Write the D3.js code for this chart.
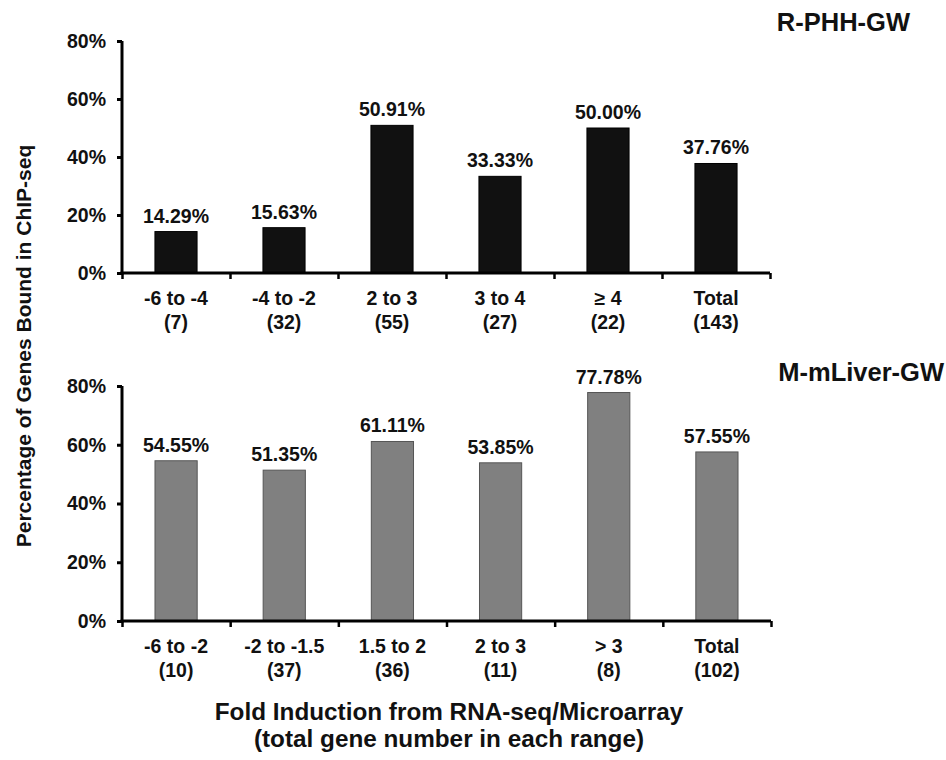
<!DOCTYPE html>
<html>
<head>
<meta charset="utf-8">
<script src="https://cdn.jsdelivr.net/npm/d3@7"></script>
<style>
  html, body { margin: 0; padding: 0; background: #fff; }
  svg { display: block; font-family: Arial, "Liberation Sans", sans-serif; font-weight: bold; }
</style>
</head>
<body>
<svg id="chart" width="946" height="760"></svg>
<script>
// ---- Data ----
const topTitle = "R-PHH-GW";
const topCategories = ["-6 to -4", "-4 to -2", "2 to 3", "3 to 4", "\u2265 4", "Total"];
const topCounts = ["(7)", "(32)", "(55)", "(27)", "(22)", "(143)"];
const topValues = [14.29, 15.63, 50.91, 33.33, 50.00, 37.76];

const bottomTitle = "M-mLiver-GW";
const bottomCategories = ["-6 to -2", "-2 to -1.5", "1.5 to 2", "2 to 3", "> 3", "Total"];
const bottomCounts = ["(10)", "(37)", "(36)", "(11)", "(8)", "(102)"];
const bottomValues = [54.55, 51.35, 61.11, 53.85, 77.78, 57.55];

const yTicks = [0, 20, 40, 60, 80];
const yTitle = "Percentage of Genes Bound in ChIP-seq";
const xTitleLines = ["Fold Induction from RNA-seq/Microarray", "(total gene number in each range)"];

// ---- Drawing ----
const svg = d3.select("#chart");

function panel(cfg) {
  const { cats, counts, values, title, y0, y1, x0, x1, fill, stroke, titleX, titleY } = cfg;
  const g = svg.append("g");
  const x = d3.scaleBand().domain(cats).range([x0, x1]).paddingInner(0.61).paddingOuter(0.305);
  const xb = d3.scaleLinear().domain([0, cats.length]).range([x0, x1]);
  const y = d3.scaleLinear().domain([0, 80]).range([y0, y1]);

  // bars
  g.selectAll("rect.bar").data(values).join("rect")
    .attr("class", "bar")
    .attr("x", (d, i) => x(cats[i]))
    .attr("width", x.bandwidth())
    .attr("y", d => y(d))
    .attr("height", d => y(0) - y(d))
    .attr("fill", fill)
    .attr("stroke", stroke)
    .attr("stroke-width", 1);

  // value labels
  g.selectAll("text.val").data(values).join("text")
    .attr("class", "val")
    .attr("x", (d, i) => x(cats[i]) + x.bandwidth() / 2)
    .attr("y", d => y(d) - 9)
    .attr("text-anchor", "middle")
    .attr("font-size", 19.5)
    .attr("fill", "#111")
    .text(d => d.toFixed(2) + "%");

  // y axis
  const ya = g.append("g").attr("transform", `translate(${x0},0)`)
    .call(d3.axisLeft(y).tickValues(yTicks).tickFormat(d => d + "%").tickSize(5).tickPadding(11));
  ya.select(".domain").attr("stroke", "#000").attr("stroke-width", 3)
    .attr("d", `M0,${y0 + 1.5}V${y1}`);
  ya.selectAll(".tick line").attr("stroke", "#000").attr("stroke-width", 3);
  ya.selectAll(".tick text").attr("font-size", 19.5).attr("font-family", "Arial, 'Liberation Sans', sans-serif")
    .attr("font-weight", "bold").attr("fill", "#111");

  // x axis (ticks at category boundaries)
  const xa = g.append("g").attr("transform", `translate(0,${y0})`)
    .call(d3.axisBottom(xb).tickValues(d3.range(cats.length + 1)).tickFormat("").tickSize(6).tickSizeOuter(0));
  xa.select(".domain").attr("stroke", "#000").attr("stroke-width", 3)
    .attr("d", `M${x0 - 1.5},0H${x1}`);
  xa.selectAll(".tick line").attr("stroke", "#000").attr("stroke-width", 2.5);

  // category labels
  const lbl = g.selectAll("text.cat").data(cats).join("text")
    .attr("class", "cat")
    .attr("text-anchor", "middle")
    .attr("font-size", 19.5)
    .attr("fill", "#111");
  lbl.append("tspan").attr("x", d => x(d) + x.bandwidth() / 2).attr("y", y0 + 32).text(d => d);
  lbl.append("tspan").attr("x", d => x(d) + x.bandwidth() / 2).attr("y", y0 + 56).text((d, i) => counts[i]);

  // panel title
  g.append("text").attr("x", titleX).attr("y", titleY).attr("text-anchor", "end")
    .attr("font-size", 25.5).attr("fill", "#111").text(title);
}

panel({ cats: topCategories, counts: topCounts, values: topValues, title: topTitle,
  y0: 273, y1: 41, x0: 122, x1: 770, fill: "#111", stroke: "#000", titleX: 910, titleY: 31 });
panel({ cats: bottomCategories, counts: bottomCounts, values: bottomValues, title: bottomTitle,
  y0: 621, y1: 386, x0: 122, x1: 771, fill: "#808080", stroke: "#555", titleX: 944, titleY: 381 });

// y title
svg.append("text")
  .attr("transform", "translate(23,346) rotate(-90)")
  .attr("text-anchor", "middle")
  .attr("dominant-baseline", "central")
  .attr("font-size", 21)
  .attr("fill", "#111")
  .text(yTitle);

// x title
svg.append("text").attr("text-anchor", "middle").attr("font-size", 24.3).attr("fill", "#111")
  .selectAll("tspan").data(xTitleLines).join("tspan")
  .attr("x", 449).attr("y", (d, i) => 720 + i * 27).text(d => d);
</script>
</body>
</html>
